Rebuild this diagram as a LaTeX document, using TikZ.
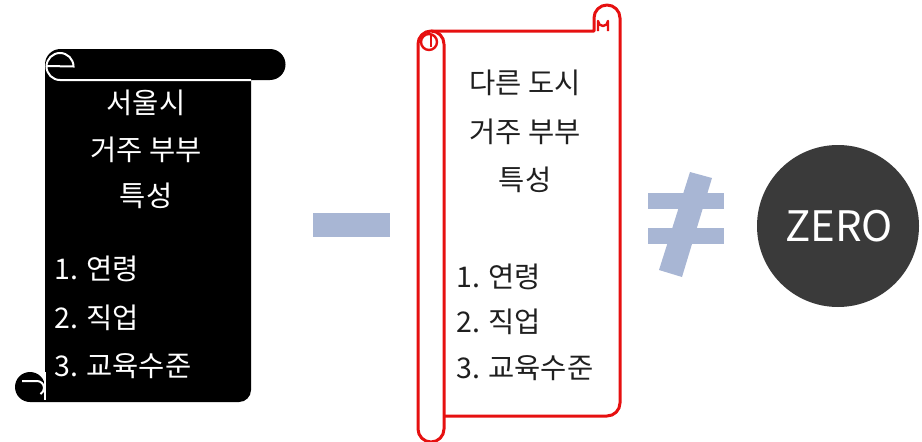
\documentclass[tikz,border=0pt]{standalone}
\usepackage{fontspec}
\newfontfamily\kr{Noto Sans CJK KR}
\definecolor{scrollred}{RGB}{230,16,16}
\definecolor{signblue}{RGB}{168,182,212}
\definecolor{zerogray}{RGB}{58,58,58}
\begin{document}
\begin{tikzpicture}[x=1pt,y=-1pt,
  krtext/.style={font=\kr\fontsize{28.5}{32}\selectfont, inner sep=0pt},
  whitetxt/.style={krtext, text=white},
  darktxt/.style={krtext, text=black!88},
  curlline/.style={draw=white, line width=2pt},
  redline/.style={draw=scrollred, line width=3pt, line join=round}]
\useasboundingbox (0,0) rectangle (922,442);

% ---------- black horizontal scroll ----------
\fill[black] (60,49) -- (270,49) arc[start angle=-90,end angle=90,radius=15.5]
  -- (251,80) -- (251,390) arc[start angle=0,end angle=90,radius=12]
  -- (30,402) arc[start angle=90,end angle=360,radius=15]
  -- (45,64.5) arc[start angle=180,end angle=270,radius=15.5] -- cycle;
\draw[curlline] (251,80) -- (60,80) arc[start angle=90,end angle=360,radius=13.5] -- (46.5,66);
\draw[curlline] (45,372) -- (45,400);
\draw[curlline] (22,381) -- (37,381) arc[start angle=-90,end angle=60,radius=7];

\node[whitetxt] (b1) at (146,103) {서울시};
\node[whitetxt] (b2) at (146,150) {거주 부부};
\node[whitetxt] (b3) at (146,196) {특성};
\node[whitetxt, anchor=west] (b4) at (54,269) {1. 연령};
\node[whitetxt, anchor=west] (b5) at (54,318) {2. 직업};
\node[whitetxt, anchor=west] (b6) at (54,366) {3. 교육수준};

% ---------- minus sign ----------
\fill[signblue] (313,213) rectangle (390,237);

% ---------- red vertical scroll ----------
% sheet
\filldraw[fill=white, redline] (444,416) -- (607,416) arc[start angle=90,end angle=0,radius=13]
  -- (620,18) arc[start angle=0,end angle=-180,radius=13] -- (594,31) -- (431,31);
\draw[redline, line width=2.4pt] (608,31) -- (608,21) arc[start angle=0,end angle=180,radius=5] -- (598,31);
% roll
\filldraw[fill=white, redline] (444,44) -- (444,429) arc[start angle=0,end angle=180,radius=13]
  -- (418,44) arc[start angle=180,end angle=360,radius=13];
\draw[redline, line width=2.4pt] (429,42) circle (8);
\draw[redline, line width=2.4pt] (431,34) -- (431,47);

\node[darktxt] (r1) at (525,83) {다른 도시};
\node[darktxt] (r2) at (525,132) {거주 부부};
\node[darktxt] (r3) at (525,180) {특성};
\node[darktxt, anchor=west] (r4) at (456,277) {1. 연령};
\node[darktxt, anchor=west] (r5) at (456,322) {2. 직업};
\node[darktxt, anchor=west] (r6) at (456,368) {3. 교육수준};

% ---------- not-equal sign ----------
\fill[signblue] (648,193) rectangle (724,209);
\fill[signblue] (648,228) rectangle (724,244);
\fill[signblue] (690,172) -- (712,178) -- (682,277) -- (659,270) -- cycle;

% ---------- ZERO circle ----------
\fill[zerogray] (838,226) circle (81);
\node[font=\kr\fontsize{42}{48}\selectfont, text=white, inner sep=0pt] (zero) at (839,226) {ZERO};
\end{tikzpicture}
\end{document}
